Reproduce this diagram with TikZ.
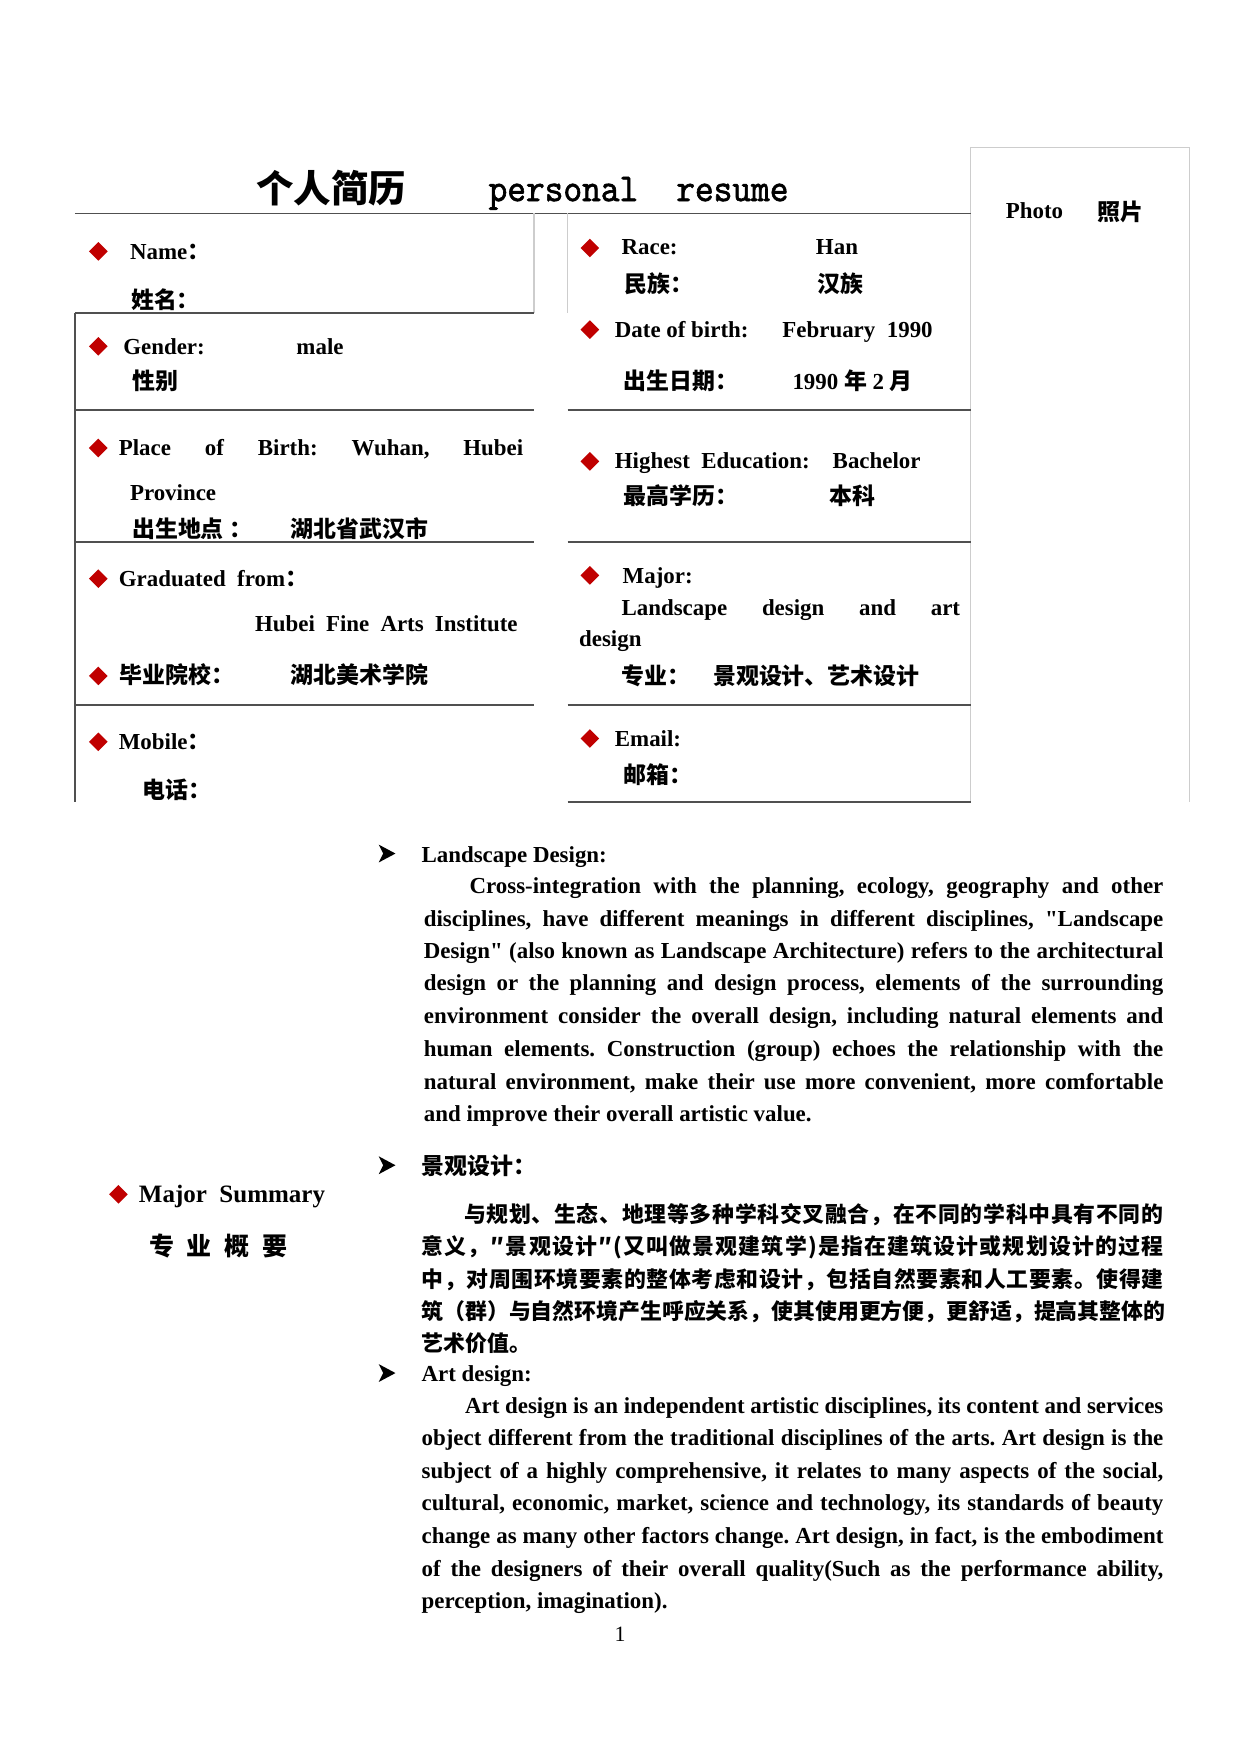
\documentclass[tikz,border=0pt]{standalone}
\usepackage{fontspec}
\setmainfont{Liberation Serif}
\newfontfamily\cjk{Noto Sans CJK SC}
\newfontfamily\titlemono{lmmono10-regular.otf}[FakeStretch=0.9,FakeBold=1.5]
\usetikzlibrary{shapes.geometric}
\newlength\pxu \setlength\pxu{0.5363pt}
\newcommand\zhf[1]{{\cjk #1}}
\def\spreadzh#1{\spreadzhi#1\relax}
\def\spreadzhi#1{\ifx\relax#1\else#1\hfil\expandafter\spreadzhi\fi}
\definecolor{dred}{RGB}{192,0,0}
\definecolor{rule}{RGB}{80,80,80}
\definecolor{lrule}{RGB}{205,205,205}
\begin{document}
\frenchspacing
\begin{tikzpicture}[x=0.5363pt,y=-0.5363pt,
  lab/.style={anchor=base west,inner sep=0pt,font=\fontsize{11pt}{14pt}\selectfont\bfseries\frenchspacing},
  body/.style={anchor=base west,inner sep=0pt,font=\fontsize{11pt}{14pt}\selectfont\bfseries\frenchspacing},
  zhbody/.style={anchor=base west,inner sep=0pt,font=\fontsize{10.5pt}{14pt}\selectfont\bfseries\cjk},
  dia/.style={diamond,fill=dred,draw=none,inner sep=0pt,minimum width=17\pxu,minimum height=17\pxu},
  trule/.style={draw=rule,line width=0.8pt},
  lightrule/.style={draw=lrule,line width=0.6pt},
  arrowhd/.pic={\fill[black] (-7,-8) -- (8,0) -- (-7,8) -- (-3,0) -- cycle;}
]
\useasboundingbox (0,0) rectangle (1110,1570);
\fill[white] (0,0) rectangle (1110,1570);

% ---------- title ----------
\node[anchor=base west,inner sep=0pt,font=\fontsize{18pt}{20pt}\selectfont\bfseries\cjk] (t1) at (229,181) {个人简历};
\node[anchor=base west,inner sep=0pt,font=\fontsize{19pt}{21pt}\selectfont\titlemono] (t2) at (437,180) {personal};
\node[anchor=base west,inner sep=0pt,font=\fontsize{19pt}{21pt}\selectfont\titlemono] (t3) at (605,180) {resume};

% ---------- photo box ----------
\draw[lightrule] (869,718) -- (869,132) -- (1065,132) -- (1065,718);
\node[lab] (ph1) at (900,196) {Photo};
\node[lab] (ph2) at (982,197) {\zhf{照片}};

% ---------- table rules ----------
\draw[trule] (67,191) -- (869,191);
\draw[lightrule] (478,191) -- (478,280);
\draw[lightrule] (508,191) -- (508,280);
\draw[trule] (67,280) -- (67,718);
\draw[trule] (67,280) -- (478,280);
\draw[trule] (67,367) -- (478,367);
\draw[trule] (67,485) -- (478,485);
\draw[trule] (67,631) -- (478,631);
\draw[trule] (508,367) -- (869,367);
\draw[trule] (508,485) -- (869,485);
\draw[trule] (508,631) -- (869,631);
\draw[trule] (508,718) -- (869,718);

% ---------- left column ----------
\node[dia] (dl1) at (88,225) {};
\node[lab] (name) at (116,232) {Name\zhf{：}};
\node[lab] (namez) at (117,276) {\zhf{姓名：}};

\node[dia] (dl2) at (88,310) {};
\node[lab] (gen) at (110,317) {Gender:};
\node[lab] (genv) at (265,317) {male};
\node[lab] (genz) at (118,349) {\zhf{性别}};

\node[dia] (dl3) at (88,401) {};
\node[lab] (pob) at (106,408) {\makebox[362\pxu][s]{Place of Birth: Wuhan, Hubei}};
\node[lab] (prov) at (116,448) {Province};
\node[lab] (pobz) at (118,481) {\zhf{出生地点 ：}};
\node[lab] (pobzv) at (260,481) {\zhf{湖北省武汉市}};

\node[dia] (dl4) at (88,518) {};
\node[lab] (grad) at (106,525) {Graduated\ \ from\zhf{：}};
\node[lab] (gradv) at (228,565) {\makebox[235\pxu][s]{Hubei Fine Arts Institute}};
\node[dia] (dl5) at (88,605) {};
\node[lab] (gradz) at (107,612) {\zhf{毕业院校：}};
\node[lab] (gradzv) at (260,612) {\zhf{湖北美术学院}};

\node[dia] (dl6) at (88,664) {};
\node[lab] (mob) at (106,671) {Mobile\zhf{：}};
\node[lab] (mobz) at (127,715) {\zhf{电话：}};

% ---------- right column ----------
\node[dia] (dr1) at (528,222) {};
\node[lab] (race) at (556,228) {Race:};
\node[lab] (racev) at (730,228) {Han};
\node[lab] (racez) at (559,262) {\zhf{民族：}};
\node[lab] (racezv) at (731,262) {\zhf{汉族}};

\node[dia] (dr2) at (528,295) {};
\node[lab] (dob) at (550,302) {Date of birth:};
\node[lab] (dobv) at (700,302) {February\ \ 1990};
\node[lab] (dobz) at (558,349) {\zhf{出生日期：}};
\node[lab] (dobzv) at (709,349) {1990 \zhf{年} 2 \zhf{月}};

\node[dia] (dr3) at (528,413) {};
\node[lab] (edu) at (550,419) {Highest\ \ Education:};
\node[lab] (eduv) at (745,419) {Bachelor};
\node[lab] (eduz) at (558,452) {\zhf{最高学历：}};
\node[lab] (eduzv) at (742,452) {\zhf{本科}};

\node[dia] (dr4) at (528,515) {};
\node[lab] (maj) at (557,522) {Major:};
\node[lab] (majv) at (556,551) {\makebox[303\pxu][s]{Landscape design and art}};
\node[lab] (majv2) at (518,579) {design};
\node[lab] (majz) at (556,613) {\zhf{专业：}};
\node[lab] (majzv) at (638,613) {\zhf{景观设计、艺术设计}};

\node[dia] (dr5) at (528,661) {};
\node[lab] (em) at (550,668) {Email:};
\node[lab] (emz) at (558,701) {\zhf{邮箱：}};

% ---------- major summary ----------
\node[dia] (dms) at (106,1069) {};
\node[anchor=base west,inner sep=0pt,font=\fontsize{12pt}{15pt}\selectfont\bfseries] (ms) at (124,1076) {Major\ \ Summary};
\node[anchor=base west,inner sep=0pt,font=\fontsize{12pt}{15pt}\selectfont\bfseries\cjk] (msz) at (133,1124) {专\hspace{11.5\pxu}业\hspace{11.5\pxu}概\hspace{11.5\pxu}要};

% ---------- Landscape Design ----------
\pic at (346,764) {arrowhd};
\node[body] (h1) at (377,772) {Landscape Design:};
\node[body] (a1) at (420,800) {\makebox[621\pxu][s]{Cross-integration with the planning, ecology, geography and other}};
\node[body] (a2) at (379,829) {\makebox[662\pxu][s]{disciplines, have different meanings in different disciplines, \textquotedbl Landscape}};
\node[body] (a3) at (379,858) {\makebox[662\pxu][s]{Design\textquotedbl\ (also known as Landscape Architecture) refers to the architectural}};
\node[body] (a4) at (379,887) {\makebox[662\pxu][s]{design or the planning and design process, elements of the surrounding}};
\node[body] (a5) at (379,916) {\makebox[662\pxu][s]{environment consider the overall design, including natural elements and}};
\node[body] (a6) at (379,946) {\makebox[662\pxu][s]{human elements. Construction (group) echoes the relationship with the}};
\node[body] (a7) at (379,975) {\makebox[662\pxu][s]{natural environment, make their use more convenient, more comfortable}};
\node[body] (a8) at (379,1004) {and improve their overall artistic value.};

% ---------- 景观设计 ----------
\pic at (346,1043) {arrowhd};
\node[lab] (h2) at (377,1051) {\zhf{景观设计：}};
\node[zhbody] (b1) at (415,1094) {\makebox[626\pxu][s]{\spreadzh{与规划、生态、地理等多种学科交叉融合，在不同的学科中具有不同的}\unskip}};
\node[zhbody] (b2) at (377,1123) {\makebox[664\pxu][s]{\spreadzh{意义，″景观设计″(又叫做景观建筑学)是指在建筑设计或规划设计的过程}\unskip}};
\node[zhbody] (b3) at (377,1152) {\makebox[664\pxu][s]{\spreadzh{中，对周围环境要素的整体考虑和设计，包括自然要素和人工要素。使得建}\unskip}};
\node[zhbody] (b4) at (377,1181) {\makebox[664\pxu][s]{\spreadzh{筑（群）与自然环境产生呼应关系，使其使用更方便，更舒适，提高其整体的}\unskip}};
\node[zhbody] (b5) at (377,1210) {艺术价值。};

% ---------- Art design ----------
\pic at (346,1229) {arrowhd};
\node[body] (h3) at (377,1237) {Art design:};
\node[body] (c1) at (416,1265) {\makebox[625\pxu][s]{Art design is an independent artistic disciplines, its content and services}};
\node[body] (c2) at (377,1294) {\makebox[664\pxu][s]{object different from the traditional disciplines of the arts. Art design is the}};
\node[body] (c3) at (377,1323) {\makebox[664\pxu][s]{subject of a highly comprehensive, it relates to many aspects of the social,}};
\node[body] (c4) at (377,1352) {\makebox[664\pxu][s]{cultural, economic, market, science and technology, its standards of beauty}};
\node[body] (c5) at (377,1382) {\makebox[664\pxu][s]{change as many other factors change. Art design, in fact, is the embodiment}};
\node[body] (c6) at (377,1411) {\makebox[664\pxu][s]{of the designers of their overall quality(Such as the performance ability,}};
\node[body] (c7) at (377,1440) {perception, imagination).};

% ---------- page number ----------
\node[anchor=base,inner sep=0pt,font=\fontsize{10.5pt}{12pt}\selectfont] (pg) at (555,1469) {1};
\end{tikzpicture}
\end{document}
